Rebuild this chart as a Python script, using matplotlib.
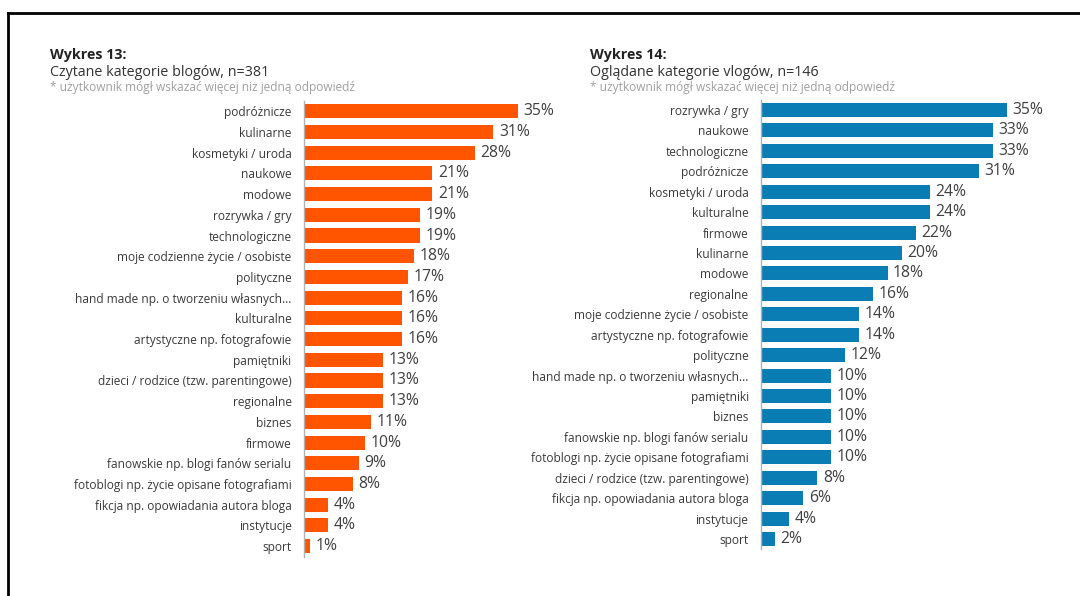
import matplotlib
matplotlib.use("Agg")
from matplotlib import pyplot as plt
from matplotlib.lines import Line2D

plt.rcParams['font.family'] = ['Open Sans', 'DejaVu Sans']

# Wykres 13 - blogi
blog_cats = ['podróżnicze', 'kulinarne', 'kosmetyki / uroda', 'naukowe', 'modowe',
             'rozrywka / gry', 'technologiczne', 'moje codzienne życie / osobiste',
             'polityczne', 'hand made np. o tworzeniu własnych...', 'kulturalne',
             'artystyczne np. fotografowie', 'pamiętniki', 'dzieci / rodzice (tzw. parentingowe)',
             'regionalne', 'biznes', 'firmowe', 'fanowskie np. blogi fanów serialu',
             'fotoblogi np. życie opisane fotografiami', 'fikcja np. opowiadania autora bloga',
             'instytucje', 'sport']
blog_vals = [35, 31, 28, 21, 21, 19, 19, 18, 17, 16, 16, 16, 13, 13, 13, 11, 10, 9, 8, 4, 4, 1]

# Wykres 14 - vlogi
vlog_cats = ['rozrywka / gry', 'naukowe', 'technologiczne', 'podróżnicze', 'kosmetyki / uroda',
             'kulturalne', 'firmowe', 'kulinarne', 'modowe', 'regionalne',
             'moje codzienne życie / osobiste', 'artystyczne np. fotografowie', 'polityczne',
             'hand made np. o tworzeniu własnych...', 'pamiętniki', 'biznes',
             'fanowskie np. blogi fanów serialu', 'fotoblogi np. życie opisane fotografiami',
             'dzieci / rodzice (tzw. parentingowe)', 'fikcja np. opowiadania autora bloga',
             'instytucje', 'sport']
vlog_vals = [35, 33, 33, 31, 24, 24, 22, 20, 18, 16, 14, 14, 12, 10, 10, 10, 10, 10, 8, 6, 4, 2]

W, H = 1080, 596
fig = plt.figure(figsize=(W / 100, H / 100), dpi=100)
fig.patch.set_facecolor('white')


def draw(rect, cats, vals, color, xmax):
    ax = fig.add_axes(rect)
    y = list(range(len(cats)))
    ax.barh(y, vals, height=0.68, color=color)
    ax.set_ylim(len(cats) - 0.5, -0.5)
    ax.set_xlim(0, xmax)
    for s in ['top', 'right', 'bottom']:
        ax.spines[s].set_visible(False)
    ax.spines['left'].set_color('#b0b0b0')
    ax.spines['left'].set_linewidth(1)
    ax.set_xticks([])
    ax.set_yticks(y)
    ax.set_yticklabels(cats, fontsize=8.6, color='#3a3a3a')
    ax.tick_params(axis='y', length=0, pad=9)
    for i, v in enumerate(vals):
        ax.annotate(f"{v}%", (v, i), xytext=(4, 0), textcoords='offset points',
                    va='center', ha='left', fontsize=11.3, color='#404040')
    return ax


# left: axis at x=304, 6.11 px per %, bars 111..546
draw([304 / W, 1 - 556.5 / H, 40 * 6.11 / W, 455.6 / H], blog_cats, blog_vals, '#FF5500', 40)
# right: axis at x=761, 7.03 px per %, bars 110..539
draw([761 / W, 1 - 549.2 / H, 40 * 7.03 / W, 449.4 / H], vlog_cats, vlog_vals, '#0A7DB5', 40)

# titles
fig.text(50 / W, 1 - 55 / H, 'Wykres 13:', fontsize=10.3, fontweight='bold', color='#222222', va='center')
fig.text(50 / W, 1 - 72 / H, 'Czytane kategorie blogów, n=381', fontsize=10.3, color='#333333', va='center')
fig.text(50 / W, 1 - 88 / H, '* użytkownik mógł wskazać więcej niż jedną odpowiedź', fontsize=8.6,
         color='#a0a0a0', va='center')
fig.text(590 / W, 1 - 55 / H, 'Wykres 14:', fontsize=10.3, fontweight='bold', color='#222222', va='center')
fig.text(590 / W, 1 - 72 / H, 'Oglądane kategorie vlogów, n=146', fontsize=10.3, color='#333333', va='center')
fig.text(590 / W, 1 - 88 / H, '* użytkownik mógł wskazać więcej niż jedną odpowiedź', fontsize=8.6,
         color='#a0a0a0', va='center')

# black frame (top and left visible)
fig.add_artist(Line2D([7.5 / W, 1], [1 - 13 / H, 1 - 13 / H], color='black', lw=2))
fig.add_artist(Line2D([7.5 / W, 7.5 / W], [0, 1 - 13 / H], color='black', lw=2))

fig.savefig('out.png', dpi=100, facecolor='white')
